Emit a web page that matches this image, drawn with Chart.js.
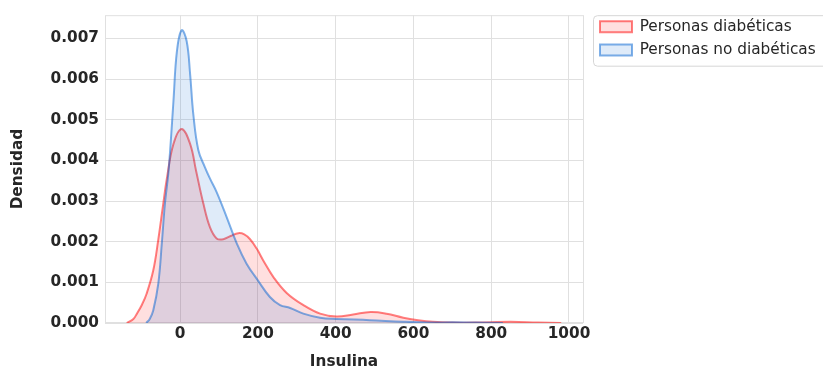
<!DOCTYPE html>
<html lang="es">
<head>
  <meta charset="UTF-8">
  <title>Densidad de Insulina</title>
  <script src="https://cdn.jsdelivr.net/npm/chart.js"></script>
  <style>
    html, body { margin: 0; padding: 0; background: #fff; }
    canvas { display: block; }
  </style>
</head>
<body>
  <canvas id="kde-chart" width="823" height="370"></canvas>
  <script>
    // KDE curves (Insulina -> Densidad)
    const diabeticX = [-137, -120, -111, -98, -86, -69, -56, -43, -34, -17, 4, 26, 41, 60, 77, 94, 111, 130, 150, 165, 180, 197, 215, 240, 274, 317, 360, 402, 445, 490, 531, 574, 612, 650, 700, 760, 850, 920, 980];
    const diabeticY = [0, 0.0001, 0.00023, 0.00045, 0.00072, 0.00129, 0.00205, 0.00295, 0.00355, 0.0044, 0.00477, 0.0044, 0.00375, 0.00293, 0.00235, 0.00208, 0.00206, 0.00214, 0.00221, 0.00218, 0.00206, 0.00183, 0.00152, 0.00113, 0.00074, 0.00044, 0.00023, 0.00016, 0.00021, 0.00027, 0.00023, 0.00013, 0.00007, 0.00003, 0.00001, 0.00001, 0.00003, 0.00001, 0];

    const nonDiabeticX = [-87, -78, -69, -56, -47, -39, -30, -24, -17, -8, 4, 17, 26, 34, 47, 64, 77, 94, 120, 146, 171, 200, 231, 257, 283, 317, 360, 402, 488, 574, 650, 700, 760, 830];
    const nonDiabeticY = [0, 0.0001, 0.00031, 0.00097, 0.00195, 0.00293, 0.0037, 0.00445, 0.00546, 0.00669, 0.0072, 0.00693, 0.0061, 0.00514, 0.00425, 0.00383, 0.00355, 0.00322, 0.0026, 0.00195, 0.00146, 0.00105, 0.00064, 0.00044, 0.00037, 0.00023, 0.00013, 0.0001, 0.00007, 0.00003, 0.00001, 0.00002, 0.00001, 0];

    const seriesLabels = ['Personas diabéticas', 'Personas no diabéticas'];

    // Axis ranges and tick values
    const xRange = [-193, 1036];
    const yRange = [0, 0.00757];
    const xTickValues = [0, 200, 400, 600, 800, 1000];
    const yTickValues = [0, 0.001, 0.002, 0.003, 0.004, 0.005, 0.006, 0.007];

    const textColor = '#262626';
    const gridColor = '#e0e0e0';
    const fontFamily = "'DejaVu Sans', sans-serif";

    const toPoints = (xs, ys) => xs.map((x, i) => ({ x: x, y: ys[i] }));

    // Plot frame + legend box, and fixed legend width / placement
    const frameAndLegend = {
      id: 'frameAndLegend',
      beforeUpdate(chart) {
        const lg = chart.legend;
        if (lg && !lg._widthPatched) {
          const fit = lg.fit;
          lg.fit = function () {
            fit.call(this);
            this.width = 240;
          };
          lg._widthPatched = true;
        }
      },
      afterLayout(chart) {
        const lg = chart.legend;
        lg.left += 9;
        lg.right += 9;
        lg.top -= 3;
        lg.bottom -= 3;
      },
      beforeDraw(chart) {
        const ctx = chart.ctx;
        const a = chart.chartArea;
        ctx.save();
        ctx.strokeStyle = '#d6d6d6';
        ctx.lineWidth = 1;
        ctx.beginPath();
        ctx.roundRect(a.right + 10.5, a.top + 0.5, 260, 50.5, 4);
        ctx.stroke();
        ctx.restore();
      },
      beforeDatasetsDraw(chart) {
        const ctx = chart.ctx;
        const a = chart.chartArea;
        ctx.save();
        ctx.strokeStyle = gridColor;
        ctx.lineWidth = 1;
        ctx.strokeRect(a.left + 0.5, a.top + 0.5, a.right - a.left, a.bottom - a.top - 1);
        ctx.restore();
      }
    };

    document.addEventListener('DOMContentLoaded', () => {
      Chart.defaults.font.family = fontFamily;
      Chart.defaults.color = textColor;

      const ctx = document.getElementById('kde-chart').getContext('2d');
      new Chart(ctx, {
        type: 'line',
        data: {
          datasets: [{
            label: seriesLabels[0],
            data: toPoints(diabeticX, diabeticY),
            borderColor: 'rgba(255, 0, 0, 0.5)',
            backgroundColor: 'rgba(255, 0, 0, 0.125)',
            borderWidth: 2,
            fill: 'origin',
            pointRadius: 0,
            tension: 0.4,
            order: 2
          }, {
            label: seriesLabels[1],
            data: toPoints(nonDiabeticX, nonDiabeticY),
            borderColor: 'rgba(0, 98, 210, 0.5)',
            backgroundColor: 'rgba(0, 98, 210, 0.125)',
            borderWidth: 2,
            fill: 'origin',
            pointRadius: 0,
            tension: 0.4,
            order: 1
          }]
        },
        options: {
          responsive: false,
          animation: false,
          devicePixelRatio: 1,
          layout: { padding: { top: 14, right: 0, bottom: 0, left: 0 } },
          scales: {
            x: {
              type: 'linear',
              min: xRange[0],
              max: xRange[1],
              afterBuildTicks: (scale) => { scale.ticks = xTickValues.map(v => ({ value: v })); },
              afterFit: (scale) => { scale.height = 47; },
              grid: { color: gridColor, drawTicks: false },
              border: { display: false },
              ticks: {
                padding: 2,
                color: textColor,
                font: { size: 15.3, weight: 'bold' },
                callback: (v) => String(v)
              },
              title: {
                display: true,
                text: 'Insulina',
                color: textColor,
                font: { size: 15.3, weight: 'bold', lineHeight: 1.0 },
                padding: 0
              }
            },
            y: {
              min: yRange[0],
              max: yRange[1],
              afterBuildTicks: (scale) => { scale.ticks = yTickValues.map(v => ({ value: v })); },
              afterFit: (scale) => { scale.width = 105; },
              grid: { color: gridColor, drawTicks: false },
              border: { display: false },
              ticks: {
                padding: 6,
                color: textColor,
                font: { size: 15.3, weight: 'bold' },
                callback: (v) => Number(v).toFixed(3)
              },
              title: {
                display: true,
                text: 'Densidad',
                color: textColor,
                font: { size: 15.3, weight: 'bold' },
                padding: { top: 9, bottom: 0 }
              }
            }
          },
          plugins: {
            legend: {
              position: 'right',
              align: 'start',
              labels: {
                boxWidth: 32,
                boxHeight: 11,
                padding: 8,
                color: textColor,
                font: { size: 15.3 },
                sort: (a, b) => a.datasetIndex - b.datasetIndex
              }
            },
            tooltip: { enabled: false }
          }
        },
        plugins: [frameAndLegend]
      });
    });
  </script>
</body>
</html>
